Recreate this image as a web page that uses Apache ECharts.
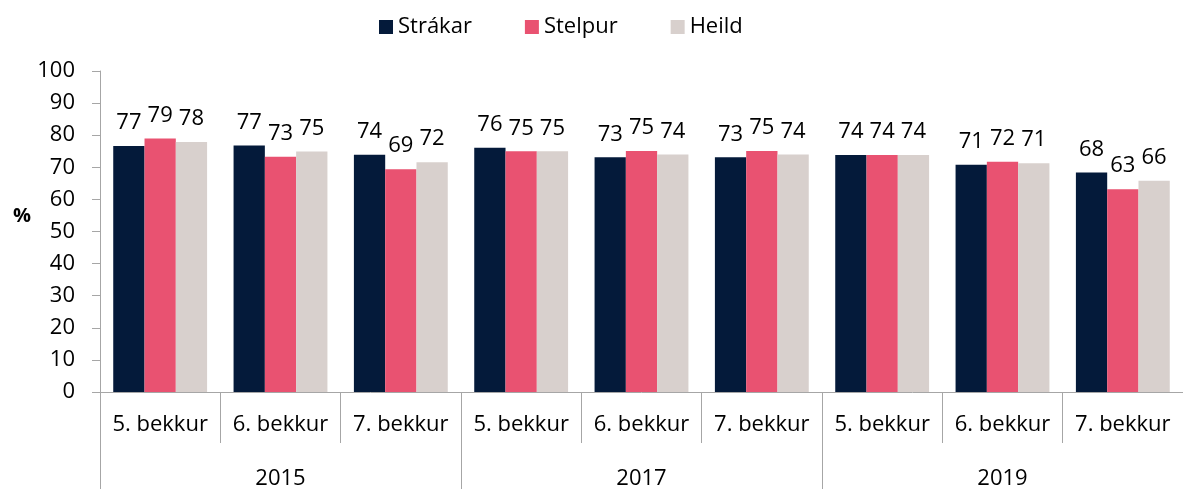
<!DOCTYPE html>
<html>
<head>
<meta charset="utf-8">
<script src="https://cdn.jsdelivr.net/npm/echarts@6/dist/echarts.min.js"></script>
<style>
  html, body { margin: 0; padding: 0; background: #fff; overflow: hidden; }
  #chart { width: 1183px; height: 490px; }
</style>
</head>
<body>
<div id="chart"></div>
<script>
// grade categories (lower axis level) and years (upper level)
const grades = ["5. bekkur", "6. bekkur", "7. bekkur", "5. bekkur", "6. bekkur", "7. bekkur", "5. bekkur", "6. bekkur", "7. bekkur"];
const years = ["2015", "2017", "2019"];

// values
const strakar = [76.6, 76.8, 73.9, 76.1, 73.1, 73.1, 73.8, 70.8, 68.4];
const stelpur = [79.0, 73.3, 69.4, 75.0, 75.1, 75.1, 73.8, 71.7, 63.2];
const heild = [77.9, 74.9, 71.6, 75.0, 74.0, 74.0, 73.8, 71.3, 65.8];

const yTicks = { min: 0, max: 100, interval: 10 };

const font = "'Open Sans', Lato, sans-serif";
const axisGray = "#a6a6a6";

const chart = echarts.init(document.getElementById("chart"));

const barLabel = {
  show: true,
  position: "top",
  distance: 12,
  color: "#000",
  fontFamily: font,
  fontSize: 22,
  formatter: (p) => Math.round(p.value),
};

const makeSeries = (name, data, color) => ({
  name: name,
  type: "bar",
  data: data,
  barGap: "0%",
  barCategoryGap: "22%",
  itemStyle: { color: color },
  label: barLabel,
});

const options = {
  animation: false,
  textStyle: { fontFamily: font },
  legend: {
    top: 11,
    left: 374,
    itemWidth: 14,
    itemHeight: 14,
    itemGap: 53,
    icon: "rect",
    textStyle: { fontSize: 22, color: "#000", fontFamily: font },
    data: ["Strákar", "Stelpur", "Heild"],
  },
  grid: {
    left: 100,
    right: 0,
    top: 71,
    bottom: 97,
    containLabel: false,
  },
  graphic: [
    {
      type: "text",
      left: 13,
      top: 206,
      style: { text: "%", font: "bold 20px " + font, fill: "#000" },
    },
  ],
  xAxis: [
    {
      type: "category",
      position: "bottom",
      data: grades,
      axisLine: { show: true, lineStyle: { color: axisGray, width: 1 } },
      axisTick: { show: true, length: 51, interval: 0, lineStyle: { color: axisGray } },
      axisLabel: { interval: 0, margin: 22, fontSize: 22, color: "#000", fontFamily: font },
    },
    {
      type: "category",
      position: "bottom",
      offset: 0,
      data: years,
      axisLine: { show: false },
      axisTick: { show: true, length: 97, interval: 0, lineStyle: { color: axisGray } },
      axisLabel: { interval: 0, margin: 76, fontSize: 22, color: "#000", fontFamily: font },
    },
  ],
  yAxis: {
    type: "value",
    min: yTicks.min,
    max: yTicks.max,
    interval: yTicks.interval,
    axisLine: { show: true, lineStyle: { color: axisGray } },
    axisTick: { show: true, length: 8, lineStyle: { color: axisGray } },
    splitLine: { show: false },
    axisLabel: { margin: 25, fontSize: 22, color: "#000", fontFamily: font },
  },
  series: [
    makeSeries("Strákar", strakar, "#041a3a"),
    makeSeries("Stelpur", stelpur, "#e95271"),
    makeSeries("Heild", heild, "#d8d0cd"),
  ],
};

chart.setOption(options);
window.addEventListener("resize", () => chart.resize());
</script>
</body>
</html>
